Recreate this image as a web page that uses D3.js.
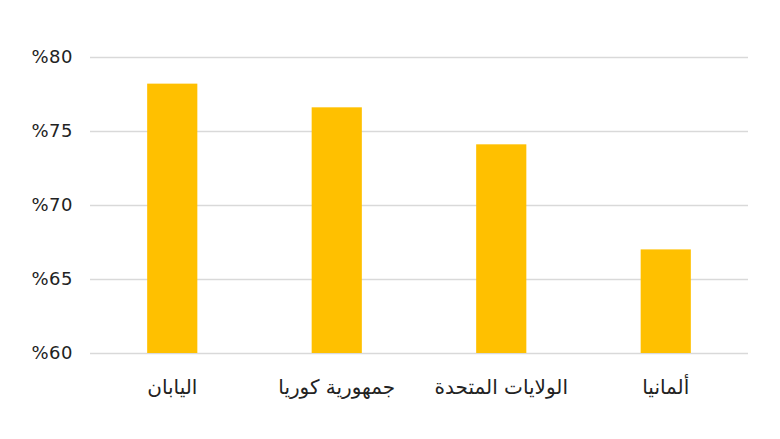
<!DOCTYPE html>
<html><head><meta charset="utf-8">
<script src="https://cdn.jsdelivr.net/npm/d3@7"></script>
<style>body{margin:0;background:#fff}svg{display:block}</style>
</head><body>
<svg id="c" width="780" height="439"></svg>
<script>
const categories = ["اليابان", "جمهورية كوريا", "الولايات المتحدة", "ألمانيا"];
const values = [78.2, 76.6, 74.1, 67.0];
const tickValues = [60, 65, 70, 75, 80];
const tickLabels = ["%60", "%65", "%70", "%75", "%80"];

(function () {
const svg = d3.select("#c");
const mLeft = 90, mRight = 748, mTop = 57, mBottom = 353;
const x = d3.scaleBand().domain(categories).range([mLeft, mRight]).paddingInner(0.695).paddingOuter(0.3475);
const y = d3.scaleLinear().domain([60, 80]).range([mBottom, mTop]);

const yAxis = d3.axisLeft(y).tickValues(tickValues).tickSize(-(mRight - mLeft))
  .tickFormat((d, i) => tickLabels[i]);
const gy = svg.append("g").attr("transform", `translate(${mLeft},0)`).call(yAxis);
gy.select(".domain").remove();
gy.selectAll(".tick line").attr("stroke", "#d9d9d9").attr("stroke-width", 1.3);
gy.selectAll(".tick text").attr("x", -17).attr("fill", "#222")
  .style("font-family", "'DejaVu Sans', sans-serif").style("font-size", "18px")
  .style("letter-spacing", "0.5px")
  .attr("direction", "ltr");

svg.append("g").selectAll("rect").data(values).join("rect")
  .attr("x", (d, i) => x(categories[i]))
  .attr("width", x.bandwidth())
  .attr("y", d => y(d))
  .attr("height", d => y(60) - y(d))
  .attr("fill", "#FFC000");

const xAxis = d3.axisBottom(x).tickSize(0).tickPadding(27);
const gx = svg.append("g").attr("transform", `translate(0,${mBottom})`).call(xAxis);
gx.select(".domain").remove();
gx.selectAll(".tick text").attr("fill", "#222")
  .style("font-family", "'DejaVu Sans', sans-serif").style("font-size", "20px")
  .attr("direction", "rtl");
})();
</script>
</body></html>
